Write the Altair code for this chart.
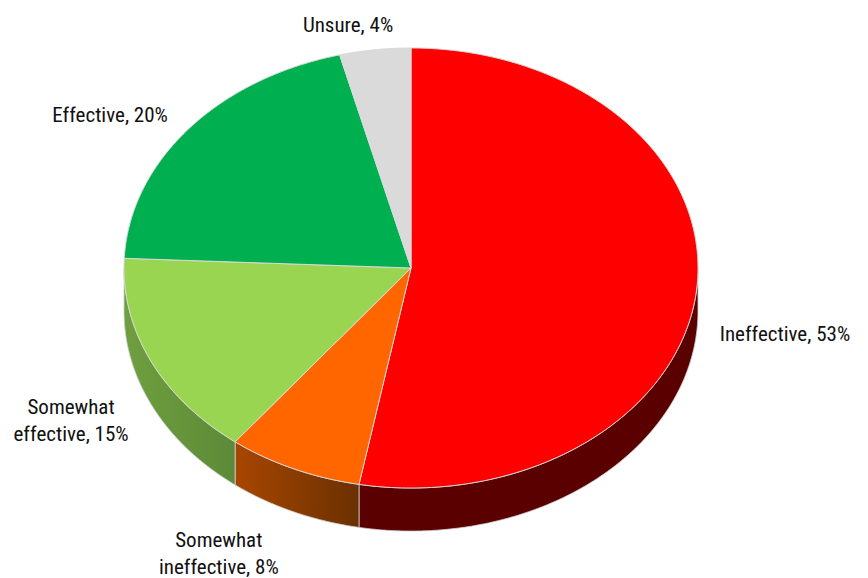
import math
import altair as alt

names = ["Ineffective", "Somewhat\nineffective", "Somewhat\neffective", "Effective", "Unsure"]
percents = [53, 8, 15, 20, 4]
# wedge sizes as measured on the picture (the printed labels are rounded)
shares = [52.9, 7.6, 15.2, 20.3, 4.0]
top_colors = ["#ff0000", "#ff6600", "#99d550", "#00b050", "#dadada"]
side_stops = [["#5a0000", "#5a0000"], ["#a84600", "#6a3000"], ["#6f9f3e", "#5c8a38"], None, None]
label_nudge = [(0.307, -0.164), (-0.261, -0.25), (-0.277, -0.165), (-0.272, 0.046), (-0.094, 0.083)]

SQUASH = 0.7666
DEPTH = 0.15
FONT = "'Roboto Condensed', 'Open Sans Condensed', Roboto"
proj = dict(type="identity", reflectY=True, scale=287, translate=[403, 260])


def rim(deg, drop=0.0):
    a = math.radians(deg)
    return [math.sin(a), math.cos(a) * SQUASH - drop]


def sweep(a, b):
    n = max(2, int(abs(b - a) * 2))
    return [a + (b - a) * i / n for i in range(n + 1)]


def feature(ring):
    return {"type": "Feature", "properties": {},
            "geometry": {"type": "Polygon", "coordinates": [ring + [ring[0]]]}}


layers = []
tops = []
texts = []
start = 0.0
for name, pct, share, col, stops, nudge in zip(names, percents, shares, top_colors, side_stops, label_nudge):
    end = start + share * 3.6
    # side wall: only the part of the rim on the near half
    lo, hi = max(start, 90.0), min(end, 270.0)
    if stops and hi > lo:
        angles = sweep(lo, hi)
        ring = [rim(d) for d in angles] + [rim(d, DEPTH) for d in reversed(angles)]
        grad = alt.LinearGradient(
            gradient="linear", x1=0, x2=1, y1=0, y2=0,
            stops=[alt.GradientStop(color=stops[0], offset=0), alt.GradientStop(color=stops[1], offset=1)],
        )
        layers.append(
            alt.Chart(alt.Data(values=[feature(ring)]))
            .mark_geoshape(fill=grad, stroke="#cfcfcf", strokeWidth=0.8)
            .project(**proj)
        )
    ring = [[0.0, 0.0]] + [rim(d) for d in sweep(start, end)]
    tops.append(
        alt.Chart(alt.Data(values=[feature(ring)]))
        .mark_geoshape(fill=col, stroke="#d9d9d9", strokeWidth=1)
        .project(**proj)
    )
    anchor = rim((start + end) / 2)
    texts.append({"label": f"{name}, {pct}%", "lon": anchor[0] + nudge[0], "lat": anchor[1] + nudge[1]})
    start = end

labels = (
    alt.Chart(alt.Data(values=texts))
    .mark_text(font=FONT, fontSize=21, color="#111111", lineBreak="\n", align="center", baseline="middle", lineHeight=27)
    .encode(longitude="lon:Q", latitude="lat:Q", text="label:N")
    .project(**proj)
)

chart = (
    alt.layer(*layers, *tops, labels)
    .properties(width=852, height=570, padding=0, autosize="none", background="white")
    .configure_view(stroke=None)
)
chart.save("out.html", embed_options={"renderer": "svg", "actions": False})
